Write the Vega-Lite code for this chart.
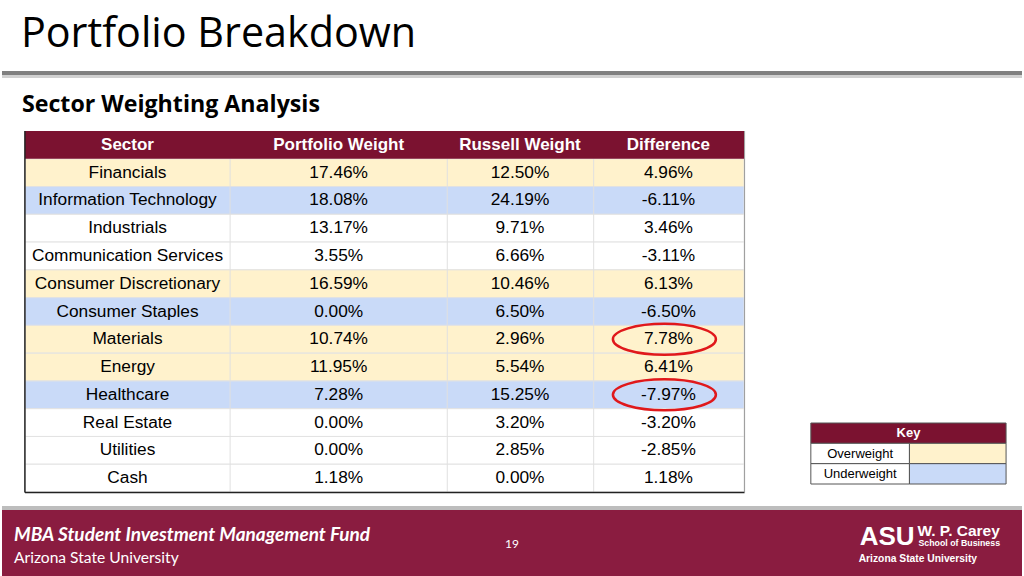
{
  "$schema": "https://vega.github.io/schema/vega-lite/v6.json",
  "width": 1024,
  "height": 576,
  "autosize": {"type": "fit", "contains": "padding"},
  "padding": 0,
  "background": "#ffffff",
  "config": {
    "view": {"stroke": null},
    "locale": {"number": {"decimal": ".", "thousands": ",", "grouping": [3], "currency": ["$", ""], "minus": "-"}}
  },
  "datasets": {
    "sectors": [
      {"sector": "Financials", "portfolio": 0.1746, "russell": 0.1250, "difference": 0.0496, "status": "Overweight"},
      {"sector": "Information Technology", "portfolio": 0.1808, "russell": 0.2419, "difference": -0.0611, "status": "Underweight"},
      {"sector": "Industrials", "portfolio": 0.1317, "russell": 0.0971, "difference": 0.0346, "status": "Neutral"},
      {"sector": "Communication Services", "portfolio": 0.0355, "russell": 0.0666, "difference": -0.0311, "status": "Neutral"},
      {"sector": "Consumer Discretionary", "portfolio": 0.1659, "russell": 0.1046, "difference": 0.0613, "status": "Overweight"},
      {"sector": "Consumer Staples", "portfolio": 0.0000, "russell": 0.0650, "difference": -0.0650, "status": "Underweight"},
      {"sector": "Materials", "portfolio": 0.1074, "russell": 0.0296, "difference": 0.0778, "status": "Overweight"},
      {"sector": "Energy", "portfolio": 0.1195, "russell": 0.0554, "difference": 0.0641, "status": "Overweight"},
      {"sector": "Healthcare", "portfolio": 0.0728, "russell": 0.1525, "difference": -0.0797, "status": "Underweight"},
      {"sector": "Real Estate", "portfolio": 0.0000, "russell": 0.0320, "difference": -0.0320, "status": "Neutral"},
      {"sector": "Utilities", "portfolio": 0.0000, "russell": 0.0285, "difference": -0.0285, "status": "Neutral"},
      {"sector": "Cash", "portfolio": 0.0118, "russell": 0.0000, "difference": 0.0118, "status": "Neutral"}
    ],
    "key": [
      {"status": "Overweight"},
      {"status": "Underweight"}
    ]
  },
  "layer": [
    {
      "data": {"name": "sectors"},
      "layer": [
        {
          "mark": {"type": "rect", "stroke": "#E2E2E2", "strokeWidth": 1},
          "encoding": {
            "x": {"datum": 23, "type": "quantitative", "scale": {"domain": [0, 1024], "nice": false, "zero": false}, "axis": null},
            "x2": {"datum": 745},
            "y": {"field": "sector", "type": "nominal", "axis": null,
              "scale": {"domain": ["header", "Financials", "Information Technology", "Industrials", "Communication Services", "Consumer Discretionary", "Consumer Staples", "Materials", "Energy", "Healthcare", "Real Estate", "Utilities", "Cash"], "range": [131, 492], "paddingInner": 0, "paddingOuter": 0}},
            "fill": {"field": "status", "type": "nominal", "legend": null,
              "scale": {"domain": ["Overweight", "Underweight", "Neutral"], "range": ["#FFF2CC", "#C9DAF8", "#FFFFFF"]}}
          }
        },
        {
          "data": {"values": [{}]},
          "mark": {"type": "rect", "fill": "#7B1230"},
          "encoding": {
            "x": {"datum": 23, "type": "quantitative"},
            "x2": {"datum": 745},
            "y": {"datum": "header", "type": "nominal"}
          }
        },
        {
          "data": {"values": [{}]},
          "mark": {"type": "text", "text": "Sector", "font": "Liberation Sans", "fontWeight": "bold", "fontSize": 17, "color": "#ffffff", "align": "center", "baseline": "middle"},
          "encoding": {"x": {"datum": 126, "type": "quantitative"}, "y": {"datum": "header", "type": "nominal"}}
        },
        {
          "data": {"values": [{}]},
          "mark": {"type": "text", "text": "Portfolio Weight", "font": "Liberation Sans", "fontWeight": "bold", "fontSize": 17, "color": "#ffffff", "align": "center", "baseline": "middle"},
          "encoding": {"x": {"datum": 338, "type": "quantitative"}, "y": {"datum": "header", "type": "nominal"}}
        },
        {
          "data": {"values": [{}]},
          "mark": {"type": "text", "text": "Russell Weight", "font": "Liberation Sans", "fontWeight": "bold", "fontSize": 17, "color": "#ffffff", "align": "center", "baseline": "middle"},
          "encoding": {"x": {"datum": 520, "type": "quantitative"}, "y": {"datum": "header", "type": "nominal"}}
        },
        {
          "data": {"values": [{}]},
          "mark": {"type": "text", "text": "Difference", "font": "Liberation Sans", "fontWeight": "bold", "fontSize": 17, "color": "#ffffff", "align": "center", "baseline": "middle"},
          "encoding": {"x": {"datum": 669, "type": "quantitative"}, "y": {"datum": "header", "type": "nominal"}}
        },
        {
          "mark": {"type": "text", "font": "Liberation Sans", "fontSize": 17.3, "color": "#000000", "align": "center", "baseline": "middle"},
          "encoding": {
            "x": {"datum": 126, "type": "quantitative"},
            "y": {"field": "sector", "type": "nominal"},
            "text": {"field": "sector", "type": "nominal"}
          }
        },
        {
          "mark": {"type": "text", "font": "Liberation Sans", "fontSize": 17.3, "color": "#000000", "align": "center", "baseline": "middle"},
          "encoding": {
            "x": {"datum": 338, "type": "quantitative"},
            "y": {"field": "sector", "type": "nominal"},
            "text": {"field": "portfolio", "type": "quantitative", "format": ".2%"}
          }
        },
        {
          "mark": {"type": "text", "font": "Liberation Sans", "fontSize": 17.3, "color": "#000000", "align": "center", "baseline": "middle"},
          "encoding": {
            "x": {"datum": 520, "type": "quantitative"},
            "y": {"field": "sector", "type": "nominal"},
            "text": {"field": "russell", "type": "quantitative", "format": ".2%"}
          }
        },
        {
          "mark": {"type": "text", "font": "Liberation Sans", "fontSize": 17.3, "color": "#000000", "align": "center", "baseline": "middle"},
          "encoding": {
            "x": {"datum": 669, "type": "quantitative"},
            "y": {"field": "sector", "type": "nominal"},
            "text": {"field": "difference", "type": "quantitative", "format": ".2%"}
          }
        },
        {
          "transform": [{"filter": "abs(datum.difference) > 0.07"}],
          "mark": {"type": "point", "shape": "M -1 0 A 1 0.3 0 1 1 1 0 A 1 0.3 0 1 1 -1 0 Z", "size": 10609, "filled": false, "stroke": "#E0181B", "strokeWidth": 2.5, "opacity": 1},
          "encoding": {
            "x": {"datum": 665, "type": "quantitative"},
            "y": {"field": "sector", "type": "nominal"}
          }
        }
      ]
    },
    {
      "data": {"name": "key"},
      "layer": [
        {
          "data": {"values": [{}]},
          "mark": {"type": "rect", "fill": "#7B1230", "stroke": "#555555", "strokeWidth": 1},
          "encoding": {
            "x": {"datum": 812, "type": "quantitative"},
            "x2": {"datum": 1008},
            "y": {"datum": "Key", "type": "nominal", "axis": null,
              "scale": {"domain": ["Key", "Overweight", "Underweight"], "range": [423, 484], "paddingInner": 0, "paddingOuter": 0}}
          }
        },
        {
          "data": {"values": [{}]},
          "mark": {"type": "text", "text": "Key", "font": "Liberation Sans", "fontWeight": "bold", "fontSize": 13, "color": "#ffffff", "align": "center", "baseline": "middle"},
          "encoding": {"x": {"datum": 910, "type": "quantitative"}, "y": {"datum": "Key", "type": "nominal"}}
        },
        {
          "mark": {"type": "rect", "fill": "#ffffff", "stroke": "#555555", "strokeWidth": 1},
          "encoding": {
            "x": {"datum": 812, "type": "quantitative"},
            "x2": {"datum": 911},
            "y": {"field": "status", "type": "nominal"}
          }
        },
        {
          "mark": {"type": "rect", "stroke": "#555555", "strokeWidth": 1},
          "encoding": {
            "x": {"datum": 911, "type": "quantitative"},
            "x2": {"datum": 1008},
            "y": {"field": "status", "type": "nominal"},
            "fill": {"field": "status", "type": "nominal", "legend": null,
              "scale": {"domain": ["Overweight", "Underweight", "Neutral"], "range": ["#FFF2CC", "#C9DAF8", "#FFFFFF"]}}
          }
        },
        {
          "mark": {"type": "text", "font": "Liberation Sans", "fontSize": 13, "color": "#000000", "align": "center", "baseline": "middle"},
          "encoding": {
            "x": {"datum": 861.5, "type": "quantitative"},
            "y": {"field": "status", "type": "nominal"},
            "text": {"field": "status", "type": "nominal"}
          }
        }
      ]
    },
    {
      "data": {"values": [{}]},
      "layer": [
        {
          "mark": {"type": "text", "text": "Portfolio Breakdown", "font": "Open Sans", "fontSize": 41.3, "color": "#000000", "align": "left", "baseline": "alphabetic"},
          "encoding": {
            "x": {"datum": 19, "type": "quantitative"},
            "y": {"datum": 47, "type": "quantitative", "axis": null, "scale": {"domain": [0, 576], "reverse": true, "nice": false, "zero": false}}
          }
        },
        {
          "mark": {"type": "rule", "color": "#D0D0D0", "strokeWidth": 3},
          "encoding": {"x": {"datum": 0, "type": "quantitative"}, "x2": {"datum": 1024}, "y": {"datum": 76.5, "type": "quantitative"}}
        },
        {
          "mark": {"type": "rule", "color": "#808080", "strokeWidth": 4},
          "encoding": {"x": {"datum": 0, "type": "quantitative"}, "x2": {"datum": 1024}, "y": {"datum": 73, "type": "quantitative"}}
        },
        {
          "mark": {"type": "text", "text": "Sector Weighting Analysis", "font": "Open Sans", "fontWeight": "bold", "fontSize": 23.2, "color": "#000000", "align": "left", "baseline": "alphabetic"},
          "encoding": {"x": {"datum": 20, "type": "quantitative"}, "y": {"datum": 112, "type": "quantitative"}}
        },
        {
          "mark": {"type": "rule", "color": "#E0E0E0", "strokeWidth": 1},
          "encoding": {"x": {"datum": 229, "type": "quantitative"}, "y": {"datum": 159, "type": "quantitative"}, "y2": {"datum": 492}}
        },
        {
          "mark": {"type": "rule", "color": "#E0E0E0", "strokeWidth": 1},
          "encoding": {"x": {"datum": 447, "type": "quantitative"}, "y": {"datum": 159, "type": "quantitative"}, "y2": {"datum": 492}}
        },
        {
          "mark": {"type": "rule", "color": "#E0E0E0", "strokeWidth": 1},
          "encoding": {"x": {"datum": 594, "type": "quantitative"}, "y": {"datum": 159, "type": "quantitative"}, "y2": {"datum": 492}}
        },
        {
          "mark": {"type": "rule", "color": "#222222", "strokeWidth": 1.5},
          "encoding": {"x": {"datum": 23, "type": "quantitative"}, "y": {"datum": 131, "type": "quantitative"}, "y2": {"datum": 492.5}}
        },
        {
          "mark": {"type": "rule", "color": "#222222", "strokeWidth": 1.5},
          "encoding": {"x": {"datum": 23, "type": "quantitative"}, "x2": {"datum": 745.5}, "y": {"datum": 492.5, "type": "quantitative"}}
        },
        {
          "mark": {"type": "rule", "color": "#9A9A9A", "strokeWidth": 1},
          "encoding": {"x": {"datum": 745.5, "type": "quantitative"}, "y": {"datum": 131, "type": "quantitative"}, "y2": {"datum": 492.5}}
        },
        {
          "mark": {"type": "rule", "color": "#BDBDBD", "strokeWidth": 4},
          "encoding": {"x": {"datum": 0, "type": "quantitative"}, "x2": {"datum": 1024}, "y": {"datum": 508, "type": "quantitative"}}
        },
        {
          "mark": {"type": "rect", "fill": "#8A1C40"},
          "encoding": {"x": {"datum": 0, "type": "quantitative"}, "x2": {"datum": 1024}, "y": {"datum": 510, "type": "quantitative"}, "y2": {"datum": 576}}
        },
        {
          "mark": {"type": "text", "text": "MBA Student Investment Management Fund", "font": "Lato", "fontWeight": "bold", "fontStyle": "italic", "fontSize": 19, "color": "#ffffff", "align": "left", "baseline": "alphabetic"},
          "encoding": {"x": {"datum": 12, "type": "quantitative"}, "y": {"datum": 541, "type": "quantitative"}}
        },
        {
          "mark": {"type": "text", "text": "Arizona State University", "font": "Lato", "fontSize": 15.6, "color": "#ffffff", "align": "left", "baseline": "alphabetic"},
          "encoding": {"x": {"datum": 12, "type": "quantitative"}, "y": {"datum": 563, "type": "quantitative"}}
        },
        {
          "mark": {"type": "text", "text": "19", "font": "Lato", "fontSize": 12, "color": "#ffffff", "align": "center", "baseline": "middle"},
          "encoding": {"x": {"datum": 512, "type": "quantitative"}, "y": {"datum": 544, "type": "quantitative"}}
        },
        {
          "mark": {"type": "text", "text": "ASU", "font": "Liberation Sans", "fontWeight": "bold", "fontSize": 26, "color": "#ffffff", "align": "left", "baseline": "alphabetic"},
          "encoding": {"x": {"datum": 861, "type": "quantitative"}, "y": {"datum": 545, "type": "quantitative"}}
        },
        {
          "mark": {"type": "text", "text": "W. P. Carey", "font": "Liberation Sans", "fontWeight": "bold", "fontSize": 15.5, "color": "#ffffff", "align": "left", "baseline": "alphabetic"},
          "encoding": {"x": {"datum": 919, "type": "quantitative"}, "y": {"datum": 536, "type": "quantitative"}}
        },
        {
          "mark": {"type": "text", "text": "School of Business", "font": "Liberation Sans", "fontWeight": "bold", "fontSize": 8.8, "color": "#ffffff", "align": "left", "baseline": "alphabetic"},
          "encoding": {"x": {"datum": 920, "type": "quantitative"}, "y": {"datum": 546, "type": "quantitative"}}
        },
        {
          "mark": {"type": "text", "text": "Arizona State University", "font": "Liberation Sans", "fontWeight": "bold", "fontSize": 10.3, "color": "#ffffff", "align": "left", "baseline": "alphabetic"},
          "encoding": {"x": {"datum": 860, "type": "quantitative"}, "y": {"datum": 562, "type": "quantitative"}}
        }
      ]
    }
  ],
  "resolve": {"scale": {"y": "independent", "fill": "independent"}}
}
